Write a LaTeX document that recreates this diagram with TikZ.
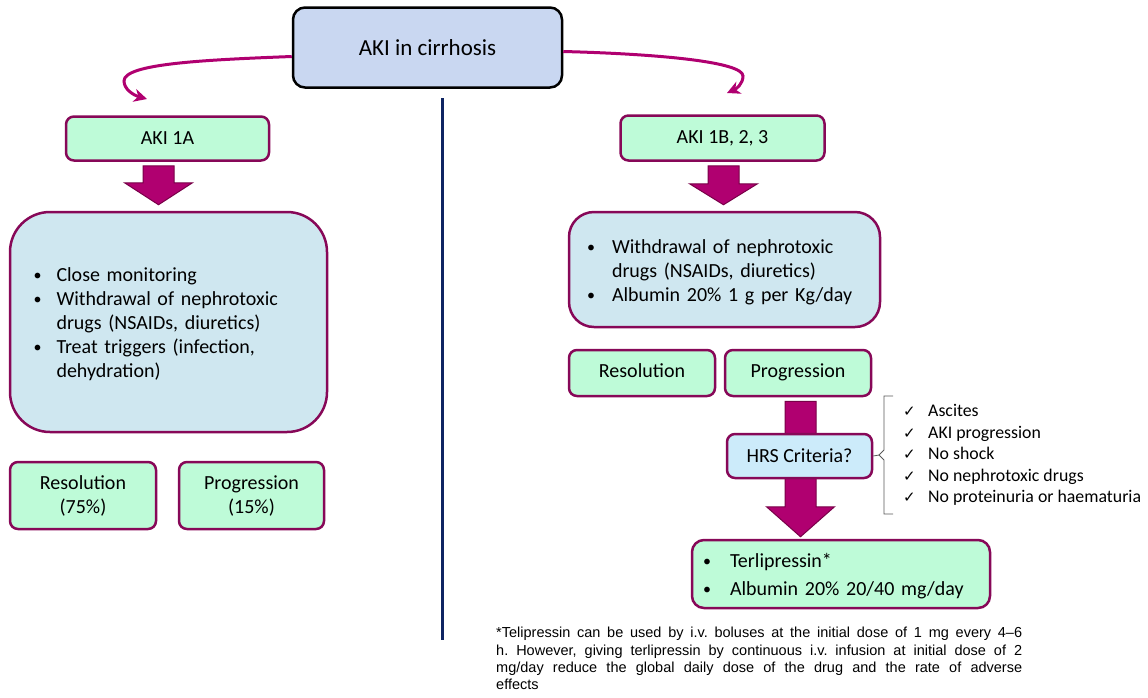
\documentclass[tikz,border=0pt]{standalone}
\usepackage{fontspec}
\setmainfont{Carlito}
\newfontfamily\notefont{Liberation Sans}
\newfontfamily\tickfont{DejaVu Sans}
\usepackage{tikz}
\usetikzlibrary{arrows.meta,calc,positioning}

\definecolor{akimag}{RGB}{176,0,112}
\definecolor{akidark}{RGB}{120,0,72}
\definecolor{akibord}{RGB}{135,8,88}
\definecolor{akigreen}{RGB}{190,251,216}
\definecolor{akiblue}{RGB}{207,231,240}
\definecolor{akihrs}{RGB}{204,235,250}
\definecolor{akitop}{RGB}{201,215,241}
\definecolor{akinavy}{RGB}{14,36,98}

\newcommand{\blt}{\raisebox{1pt}{\scalebox{0.8}{\textbullet}}}
\newcommand{\tick}{\makebox[25pt][l]{\tickfont\fontsize{15}{15}\selectfont ✓}}
\newcommand{\sinktext}[2]{\raisebox{-#1}[\height][\depth]{#2}}

\newcommand{\fatarrow}[5]{% from, to, x offset, tip gap, head length
  \draw[fatarrow] let \p1=(#1.south), \p2=(#2.north) in
    ({\x1+(#3pt)-15.5pt},{\y1-4pt}) -- ({\x1+(#3pt)+15.5pt},{\y1-4pt})
    -- ({\x1+(#3pt)+15.5pt},{\y2+#4pt+#5pt}) -- ({\x1+(#3pt)+34pt},{\y2+#4pt+#5pt})
    -- ({\x1+(#3pt)},{\y2+#4pt}) -- ({\x1+(#3pt)-34pt},{\y2+#4pt+#5pt})
    -- ({\x1+(#3pt)-15.5pt},{\y2+#4pt+#5pt}) -- cycle;}

\begin{document}
\begin{tikzpicture}
    [
      x=1pt, y=-1pt,
      box/.style = {draw=akibord, line width=2.5pt, rounded corners=8pt, fill=akigreen,
                    align=center, inner sep=0pt, font=\fontsize{20}{24}\selectfont},
      bigbox/.style = {box, fill=akiblue},
      fatarrow/.style = {fill=akimag, draw=akidark, line width=1pt, line join=miter},
      curvearrow/.style = {draw=akimag, line width=3pt, -{Stealth[length=13pt,width=13pt,inset=4pt]}},
      divider/.style = {draw=akinavy, line width=3pt},
    ]
    \useasboundingbox (0,0) rectangle (1148,697);

    % root
    \node[box, fill=akitop, draw=black, rounded corners=12pt, minimum width=269pt,
          minimum height=80pt, font=\fontsize{23}{28}\selectfont](top) at (427.5,47.5) {AKI in cirrhosis};

    % left branch
    \node[box, minimum width=203pt, minimum height=44pt](l1) at (167.5,138.5) {AKI 1A};
    \node[bigbox, rounded corners=40pt, minimum width=317pt, minimum height=220pt,
          text width=270pt, align=left](l2) at (168.5,322) {%
      \sinktext{3pt}{\begin{tabular}{@{}p{23pt}@{}l@{}}
        \blt & Close monitoring\\
        \blt & Withdrawal of nephrotoxic\\
             & drugs (NSAIDs, diuretics)\\
        \blt & Treat triggers (infection,\\
             & dehydration)
      \end{tabular}}};
    \node[box, minimum width=146pt, minimum height=67pt](l3) at (83,495.5) {Resolution\\(75\%)};
    \node[box, minimum width=145pt, minimum height=67pt](l4) at (251.5,495.5) {Progression\\(15\%)};

    % right branch
    \node[box, minimum width=204pt, minimum height=45pt](r1) at (722.5,138) {AKI 1B, 2, 3};
    \node[bigbox, rounded corners=25pt, minimum width=311pt, minimum height=115pt,
          text width=275pt, align=left](r2) at (724.5,269.5) {%
      \sinktext{3pt}{\begin{tabular}{@{}p{25pt}@{}l@{}}
        \blt & Withdrawal of nephrotoxic\\
             & drugs (NSAIDs, diuretics)\\
        \blt & Albumin 20\% 1 g per Kg/day
      \end{tabular}}};
    \node[box, minimum width=146pt, minimum height=46pt](r3) at (642,373) {\strut Resolution};
    \node[box, minimum width=146pt, minimum height=46pt](r4) at (798,373) {\strut Progression};
    \node[box, rounded corners=12pt, minimum width=298pt, minimum height=68pt,
          text width=276pt, align=left, font=\fontsize{20}{28}\selectfont](r6) at (841,574) {%
      \sinktext{1.5pt}{\begin{tabular}{@{}p{27pt}@{}l@{}}
        \blt & Terlipressin*\\
        \blt & Albumin 20\% 20/40 mg/day
      \end{tabular}}};

    % connectors
    \coordinate (ltip) at (147,99);
    \coordinate (rtip) at (727,93);
    \draw[curvearrow] ([yshift=-9pt]top.west) .. controls (200,60) and (124,64) .. (124,81)
      .. controls (124,89) and (133,95) .. (ltip);
    \draw[curvearrow] ([yshift=-4pt]top.east) .. controls (660,54) and (743,62) .. (743,76)
      .. controls (743,84) and (736,89) .. (rtip);
    \draw[divider] (442,98) -- (442,640);

    \fatarrow{l1}{l2}{-9}{6}{22}
    \fatarrow{r1}{r2}{1}{6}{21}
    \fatarrow{r4}{r6}{2.5}{2}{30}

    \node[box, fill=akihrs, minimum width=145pt, minimum height=44pt](r5) at (799.5,456) {HRS Criteria?};

    % criteria
    \coordinate (br) at (879,455);
    \draw[gray!70!black, line width=0.8pt] (r5.east) -- (br) -- (884,450) -- (884,396) -- (893,396)
      (br) -- (884,460) -- (884,514) -- (893,514);
    \node[anchor=west, align=left, inner sep=0pt, font=\fontsize{17.8}{21.5}\selectfont](crit) at (903,455) {%
      \tick Ascites\\
      \tick AKI progression\\
      \tick No shock\\
      \tick No nephrotoxic drugs\\
      \tick No proteinuria or haematuria};

    % footnote
    \node[anchor=north west, inner sep=0pt, text width=526pt, align=justify,
          font=\notefont\fontsize{14.5}{17.3}\selectfont\frenchspacing](note) at (496,627) {%
      *Telipressin can be used by i.v. boluses at the initial dose of 1 mg every 4–6\linebreak
      h. However, giving terlipressin by continuous i.v. infusion at initial dose of 2\linebreak
      mg/day reduce the global daily dose of the drug and the rate of adverse\linebreak
      effects};
\end{tikzpicture}
\end{document}
